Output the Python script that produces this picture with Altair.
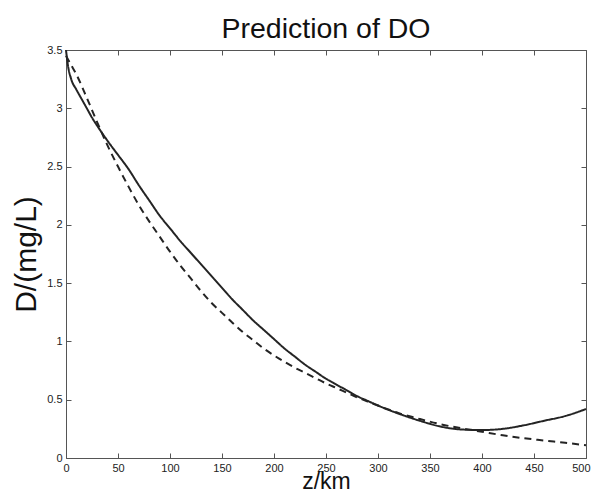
import altair as alt
import pandas as pd

# ---- data ----
z_solid = [0, 2, 5, 10, 15, 20, 25, 30, 40, 50, 60, 70, 80, 90, 100, 110, 120, 130, 140,
           150, 160, 170, 180, 190, 200, 210, 220, 230, 240, 250, 260, 270, 280, 290, 300,
           320, 340, 360, 380, 400, 420, 440, 460, 480, 500]
d_solid = [3.50, 3.36, 3.25, 3.16, 3.08, 3.00, 2.92, 2.85, 2.72, 2.60, 2.48, 2.34, 2.21, 2.08,
           1.97, 1.86, 1.76, 1.66, 1.56, 1.46, 1.36, 1.27, 1.18, 1.10, 1.02, 0.94, 0.87, 0.80,
           0.74, 0.68, 0.63, 0.58, 0.53, 0.49, 0.45, 0.38, 0.32, 0.27, 0.245, 0.24, 0.25, 0.28,
           0.32, 0.36, 0.42]
z_dash = [0, 5, 10, 20, 30, 40, 50, 60, 70, 80, 90, 100, 110, 120, 130, 140, 150, 160, 170,
          180, 190, 200, 210, 220, 230, 240, 250, 260, 270, 280, 290, 300, 320, 340, 360, 380,
          400, 420, 440, 460, 480, 500]
d_dash = [3.45, 3.37, 3.29, 3.09, 2.88, 2.68, 2.50, 2.33, 2.17, 2.03, 1.90, 1.77, 1.65, 1.54,
          1.43, 1.33, 1.245, 1.16, 1.08, 1.01, 0.94, 0.88, 0.825, 0.775, 0.73, 0.685, 0.64, 0.60,
          0.56, 0.52, 0.485, 0.45, 0.385, 0.335, 0.29, 0.255, 0.225, 0.195, 0.17, 0.15, 0.13,
          0.11]
x_ticks = [0, 50, 100, 150, 200, 250, 300, 350, 400, 450, 500]
y_ticks = [0, 0.5, 1, 1.5, 2, 2.5, 3, 3.5]
series_names = ["model", "fit"]

df = pd.concat([
    pd.DataFrame({"z": z_solid, "D": d_solid, "series": series_names[0]}),
    pd.DataFrame({"z": z_dash, "D": d_dash, "series": series_names[1]}),
], ignore_index=True)

W, H = 520, 408
FONT = "Liberation Sans"
INK = "#242424"
FRAME = "#555555"
INWARD = alt.ExprRef(expr="-5")

xscale = alt.Scale(domain=[0, 500], nice=False, zero=False)
yscale = alt.Scale(domain=[0, 3.5], nice=False, zero=False)
dash = alt.StrokeDash("series:N",
                      scale=alt.Scale(domain=series_names, range=[[1, 0], [7, 5]]),
                      legend=None)

lab = dict(labelFont=FONT, labelFontSize=11, labelColor="#222222", grid=False,
           ticks=True, tickSize=INWARD, tickColor=FRAME, tickWidth=1, domain=False)

lines = alt.Chart(df).mark_line(color=INK, strokeWidth=2, interpolate="monotone").encode(
    x=alt.X("z:Q", scale=xscale,
            axis=alt.Axis(orient="bottom", values=x_ticks, title="z/km",
                          labelPadding=9, labelFlush=False,
                          labelAlign=alt.condition("datum.value >= 500",
                                                   alt.value("right"), alt.value("center")),
                          labelOffset=alt.condition("datum.value >= 500",
                                                    alt.value(4), alt.value(0)),
                          titleFont=FONT, titleFontSize=23, titleFontWeight="normal",
                          titleColor="#111111", titleBaseline="alphabetic", titleY=30,
                          **lab)),
    y=alt.Y("D:Q", scale=yscale,
            axis=alt.Axis(orient="left", values=y_ticks, format="~g", title="D/(mg/L)",
                          labelPadding=9, labelFlush=False,
                          titleFont=FONT, titleFontSize=30, titleFontWeight="normal",
                          titleColor="#111111", titleBaseline="middle", titleX=-40,
                          **lab)),
    strokeDash=dash,
)

tickax = dict(labels=False, domain=False, grid=False, title=None, ticks=True,
              tickSize=INWARD, tickColor=FRAME, tickWidth=1)

mirror = alt.Chart(df).mark_line(opacity=0).encode(
    x=alt.X("z:Q", scale=xscale,
            axis=alt.Axis(orient="top", values=x_ticks, **tickax)),
    y=alt.Y("D:Q", scale=yscale,
            axis=alt.Axis(orient="right", values=y_ticks, **tickax)),
    detail="series:N",
)

chart = alt.layer(lines, mirror).resolve_axis(
    x="independent", y="independent"
).properties(
    width=W, height=H,
    title=alt.TitleParams("Prediction of DO", font=FONT, fontSize=28.5, fontWeight="normal",
                          color="#111111", anchor="middle", offset=1),
    autosize=alt.AutoSizeParams(type="none"),
    padding={"left": 58, "top": 42, "right": 5, "bottom": 32},
).configure_view(stroke=FRAME, strokeWidth=1)

chart.save("out.html", embed_options={"renderer": "svg", "actions": False})
